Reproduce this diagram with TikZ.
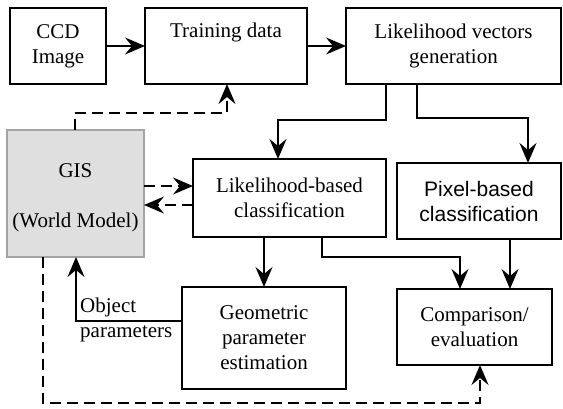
\documentclass[tikz,border=0pt]{standalone}
\usepackage{fontspec}
\setmainfont{Liberation Serif}
\newfontfamily\arialfont{Liberation Sans}
\usetikzlibrary{arrows.meta}
\definecolor{gisfill}{HTML}{DFDFDF}
\definecolor{gisdraw}{HTML}{A4A4A4}
\begin{document}
\begin{tikzpicture}[x=1pt,y=-1pt,
  box/.style={draw=black, line width=1.8pt, inner sep=0pt, outer sep=0pt, align=center, font=\fontsize{21}{25}\selectfont},
  lbl/.style={inner sep=0pt, align=left, font=\fontsize{21}{25}\selectfont},
  con/.style={line width=1.6pt, -{Stealth[length=20pt,width=17pt,inset=7pt]}},
  dcon/.style={con, dash pattern=on 11pt off 6pt}]
\useasboundingbox (0,0) rectangle (563,409);
% boxes
\node[box, minimum width=96pt, minimum height=76pt] (ccd) at (58,46) {CCD\\Image};
\node[box, minimum width=162pt, minimum height=76pt] (td) at (226,46) {Training data\\\strut};
\node[box, minimum width=215pt, minimum height=76pt] (lv) at (453.5,46) {Likelihood vectors\\generation};
\node[box, draw=gisdraw, fill=gisfill, minimum width=137pt, minimum height=127pt] (gis) at (75.5,193.5) {};
\node[lbl, align=center] (gistext) at (75.5,198) {GIS\\\strut\\(World Model)};
\node[box, minimum width=193pt, minimum height=78pt] (lb) at (289.5,198) {Likelihood-based\\classification};
\node[box, minimum width=164pt, minimum height=76pt, font=\fontsize{21}{25}\arialfont] (px) at (479,201) {Pixel-based\\classification};
\node[box, minimum width=164pt, minimum height=102pt] (geo) at (264,338) {Geometric\\parameter\\estimation};
\node[box, minimum width=155pt, minimum height=76pt] (cmp) at (474.5,327) {Comparison/\\evaluation};
\node[lbl, anchor=west] (objlbl) at (80,319.5) {Object\\parameters};
% solid connectors
\draw[con] (ccd.east) -- (td.west);
\draw[con] (td.east) -- (lv.west);
\draw[con] (lv.south -| 386,0) |- (278,120) -- (lb.north -| 278,0);
\draw[con] (lv.south -| 417,0) |- (528,118) -- (px.north -| 528,0);
\draw[con] (lb.south -| geo.north) -- (geo.north);
\draw[con] (lb.south -| 322,0) |- (460,257) -- (cmp.north -| 460,0);
\draw[con] (px.south -| 510,0) -- (cmp.north -| 510,0);
\draw[con] (geo.west |- 0,321) -| (gis.south -| 76,0);
% dashed connectors
\draw[dcon] (gis.north -| 75,0) |- (227,113) -- (td.south -| 227,0);
\draw[dcon] (gis.east |- 0,186) -- (lb.west |- 0,186);
\draw[dcon] (lb.west |- 0,205) -- (gis.east |- 0,205);
\draw[dcon] (gis.south -| 43,0) |- (480,403) -- (cmp.south -| 480,0);
\end{tikzpicture}
\end{document}
